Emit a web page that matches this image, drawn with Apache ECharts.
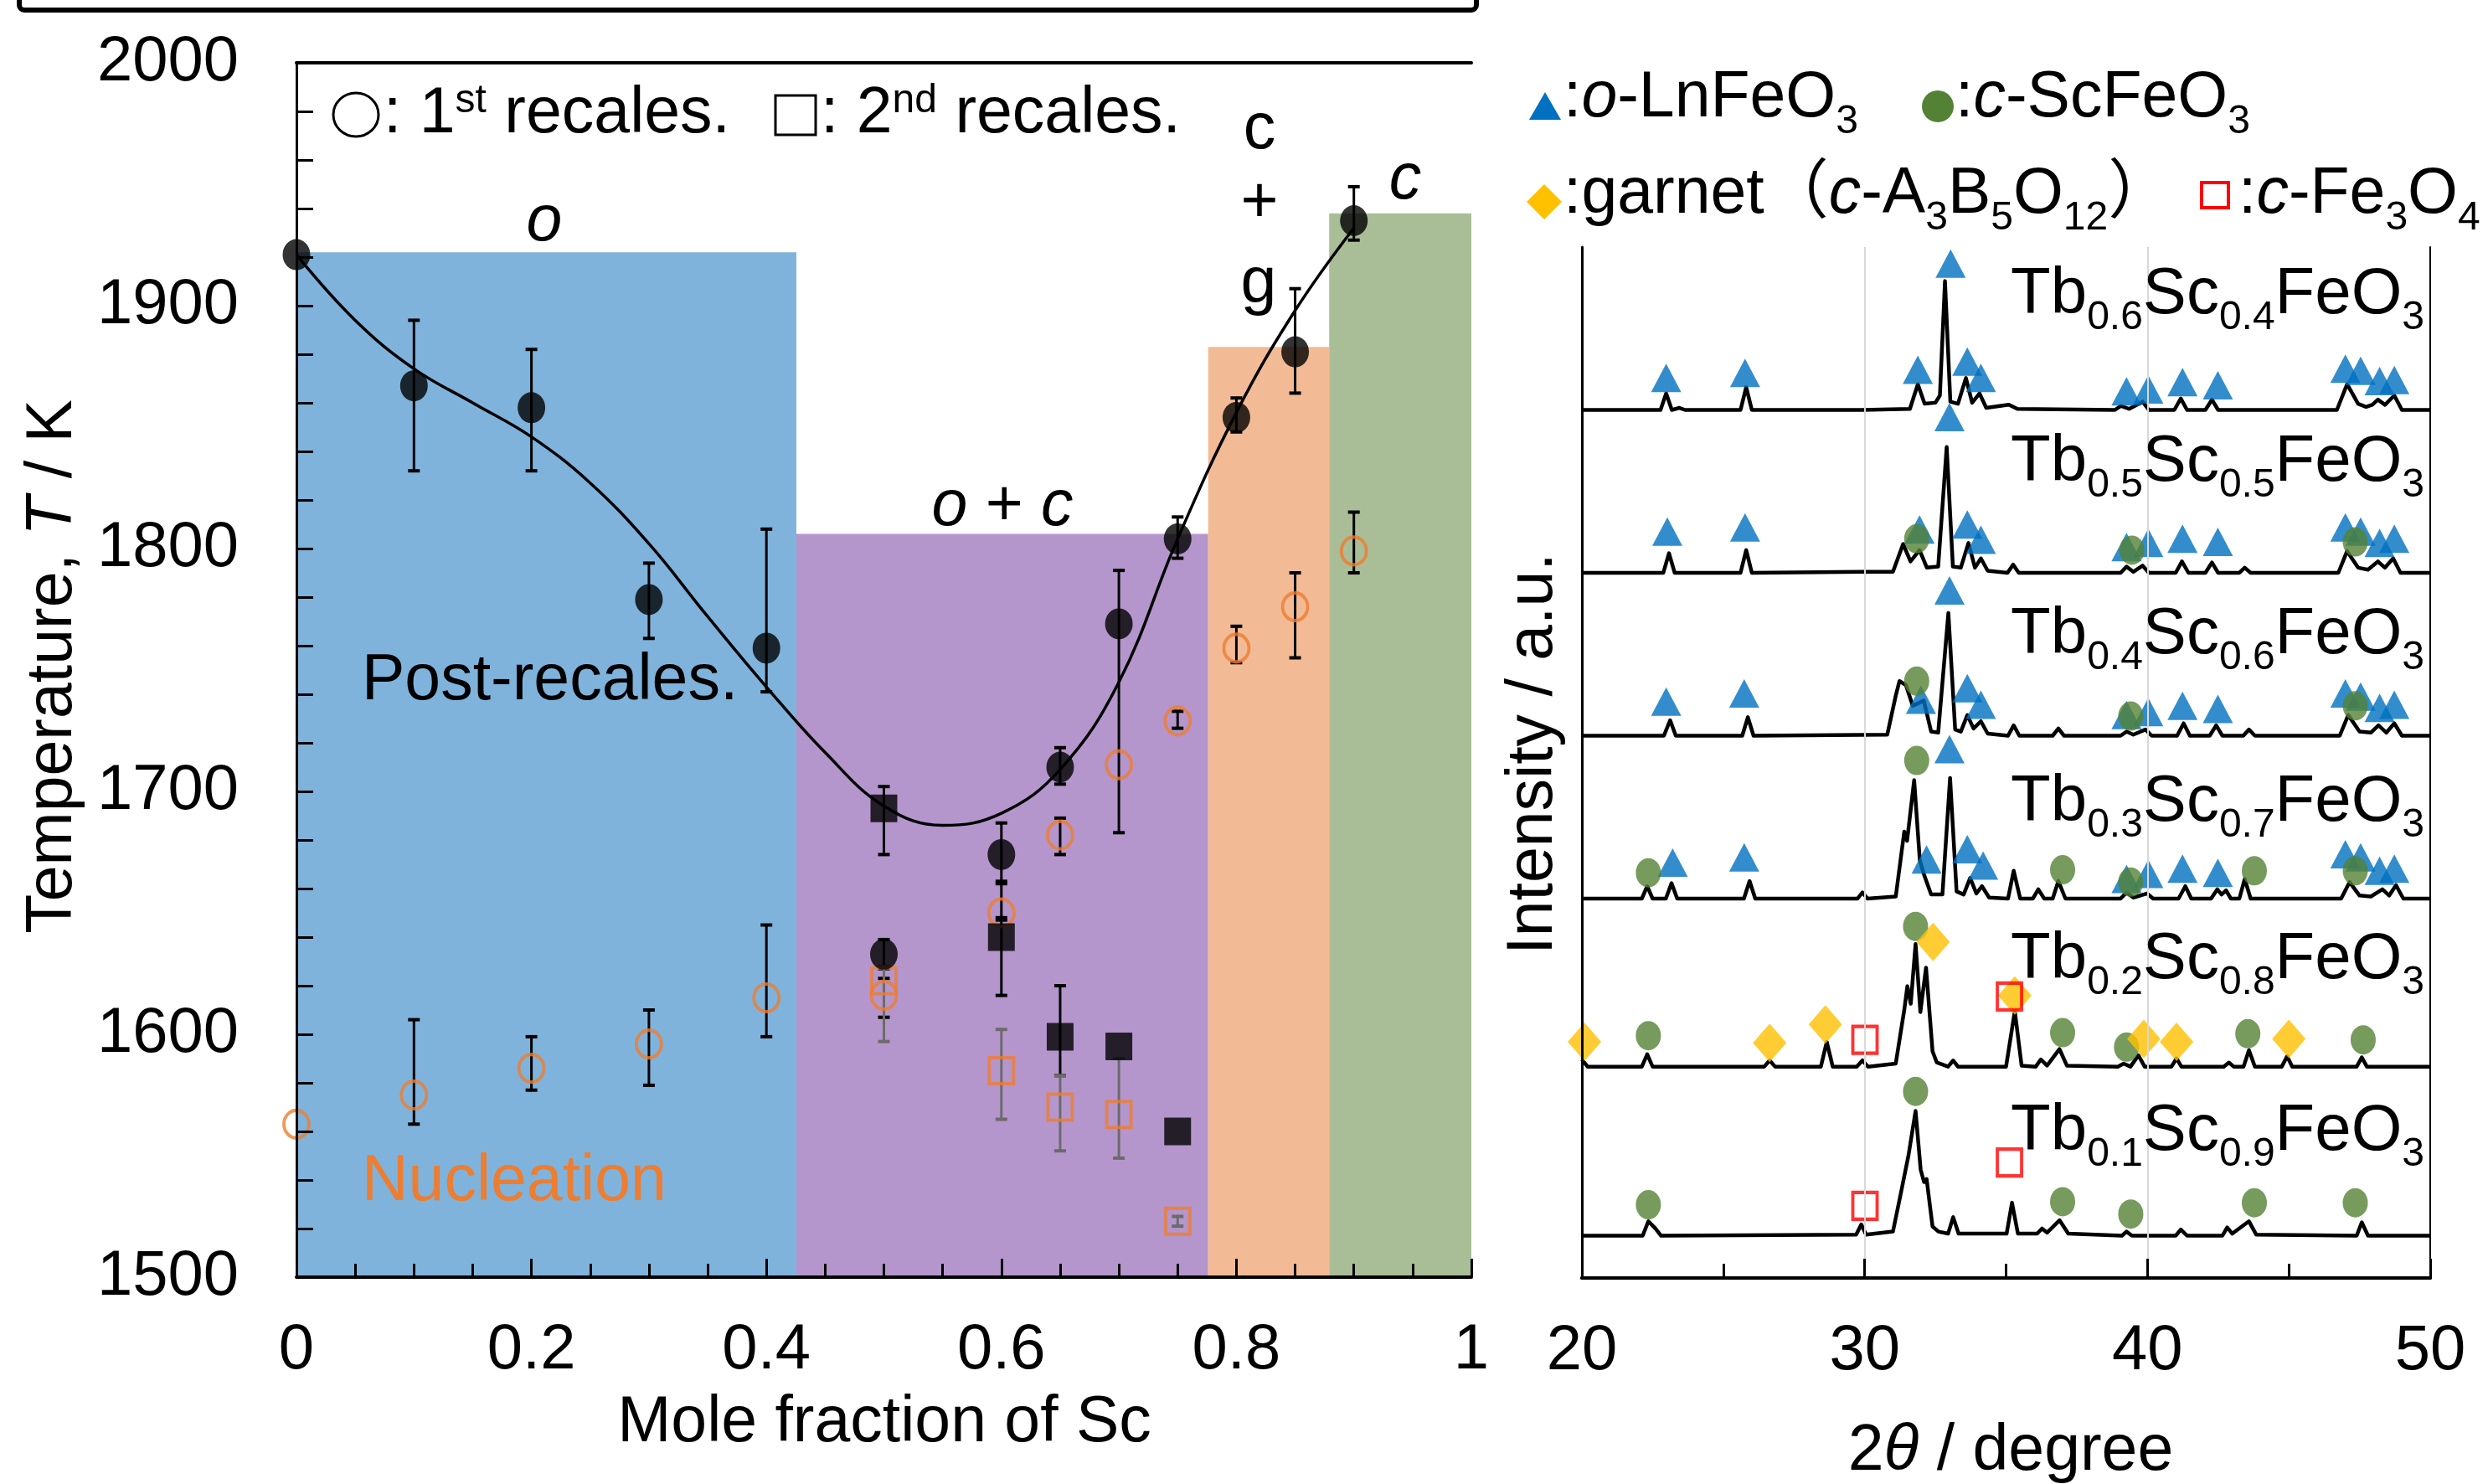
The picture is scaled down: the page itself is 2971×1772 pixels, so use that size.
<!DOCTYPE html>
<html><head><meta charset="utf-8">
<script src="https://cdn.jsdelivr.net/npm/echarts@6/dist/echarts.min.js"></script>
<style>html,body{margin:0;padding:0;background:#fff}#c{width:2971px;height:1772px}</style>
</head><body><div id="c"></div>
<script>
// ---------------- LEFT PANEL DATA ----------------
const xTicksLeft = [0, 0.2, 0.4, 0.6, 0.8, 1];
// post-recalescence, 1st recalescence (filled circles)
const postRecal1X  = [0, 0.1, 0.2, 0.3, 0.4, 0.5, 0.6, 0.65, 0.7, 0.75, 0.8, 0.85, 0.9];
const postRecal1T  = [1921, 1867, 1858, 1779, 1759, 1633, 1674, 1710, 1769, 1804, 1854, 1881, 1935];
const postRecal1Lo = [null, 1832, 1832, 1763, 1741, 1627, 1662, 1703, 1683, 1796, 1848, 1864, 1927];
const postRecal1Hi = [null, 1894, 1882, 1794, 1808, 1639, 1687, 1718, 1791, 1813, 1862, 1907, 1949];
// post-recalescence, 2nd recalescence (filled squares)
const postRecal2X  = [0.5, 0.6, 0.65, 0.7, 0.75];
const postRecal2T  = [1693, 1640, 1599, 1595, 1560];
const postRecal2Lo = [1674, 1616, 1583, null, null];
const postRecal2Hi = [1702, 1648, 1620, null, null];
// nucleation, 1st recalescence (open circles)
const nucl1X  = [0, 0.1, 0.2, 0.3, 0.4, 0.5, 0.6, 0.65, 0.7, 0.75, 0.8, 0.85, 0.9];
const nucl1T  = [1563, 1575, 1586, 1596, 1615, 1616, 1650, 1682, 1711, 1729, 1759, 1776, 1799];
const nucl1Lo = [null, 1563, 1577, 1579, 1599, 1607, 1647, 1674, null, 1726, 1753, 1755, 1790];
const nucl1Hi = [null, 1606, 1599, 1610, 1645, 1623, 1663, 1689, null, 1733, 1768, 1790, 1815];
// nucleation, 2nd recalescence (open squares)
const nucl2X  = [0.5, 0.6, 0.65, 0.7, 0.75];
const nucl2T  = [1622, 1585, 1570, 1567, 1523];
const nucl2Lo = [1597, 1565, 1552, 1549, 1521];
const nucl2Hi = [1628, 1602, 1583, 1590, 1525];
// guide curve
const curveX = [0, 0.05, 0.1, 0.15, 0.2, 0.25, 0.3, 0.35, 0.4, 0.45, 0.5, 0.55, 0.6, 0.65, 0.7, 0.75, 0.8, 0.85, 0.9];
const curveT = [1921, 1894, 1874, 1860, 1846, 1827, 1802, 1772, 1743, 1716, 1694, 1686, 1691, 1709, 1745, 1804, 1856, 1898, 1932];
// phase regions
const phaseNames = ['o', 'o + c', 'c + g', 'c'];
const phaseStart = [0, 0.4255, 0.776, 0.879];
const phaseEnd   = [0.4255, 0.776, 0.879, 1];
const phaseTop   = [1922, 1806, 1883, 1938];

// ---------------- RIGHT PANEL DATA (XRD, a.u.) ----------------
const tbFrac = ['0.6', '0.5', '0.4', '0.3', '0.2', '0.1'];
const scFrac = ['0.4', '0.5', '0.6', '0.7', '0.8', '0.9'];
const xrdTb06 = [[20,84.2],[22.78,84.2],[22.98,85.8],[23.18,84.2],[23.45,84.4],[23.65,84.2],[25.61,84.2],[25.81,86.4],[26.01,84.2],[29.9,84.2],[31.6,84.3],[31.88,86.7],[32.12,84.8],[32.5,84.9],[32.66,85.6],[32.84,96.7],[33.03,85.0],[33.3,84.8],[33.58,87.3],[33.8,84.9],[34.06,85.8],[34.3,84.4],[35.1,84.7],[35.4,84.3],[38.85,84.2],[39.06,84.6],[39.35,84.3],[39.83,85.0],[40.05,84.2],[40.95,84.2],[41.18,85.3],[41.4,84.2],[42.05,84.2],[42.28,85.2],[42.5,84.2],[46.7,84.2],[47.06,86.7],[47.45,84.8],[47.73,84.5],[47.95,84.7],[48.15,85.2],[48.4,84.7],[48.73,85.6],[49.0,84.2],[50,84.2]];
const xrdTb05 = [[20,68.4],[22.88,68.4],[23.08,70.3],[23.28,68.4],[25.61,68.4],[25.81,70.6],[26.01,68.4],[29.9,68.5],[31.0,68.5],[31.36,71.2],[31.62,69.5],[31.94,70.6],[32.2,68.9],[32.6,69.0],[32.9,80.6],[33.12,69.0],[33.4,68.9],[33.67,71.3],[33.9,68.9],[34.11,69.8],[34.35,68.6],[35.05,68.4],[35.25,69.2],[35.45,68.4],[39.05,68.4],[39.26,69.0],[39.5,68.5],[39.83,69.1],[40.05,68.4],[41.0,68.4],[41.22,69.5],[41.45,68.4],[42.05,68.4],[42.28,69.4],[42.5,68.4],[43.25,68.4],[43.44,68.9],[43.65,68.4],[46.75,68.4],[47.06,70.5],[47.45,68.9],[47.8,68.7],[48.15,69.5],[48.4,68.9],[48.69,69.8],[48.95,68.4],[50,68.4]];
const xrdTb04 = [[20,52.6],[22.9,52.6],[23.12,54.1],[23.32,52.6],[25.67,52.6],[25.87,54.4],[26.07,52.6],[30.8,52.7],[31.1,56.5],[31.23,57.9],[31.46,57.5],[31.7,55.5],[32.09,56.0],[32.35,53.0],[32.6,52.9],[32.96,64.5],[33.2,53.2],[33.4,53.0],[33.63,54.6],[33.85,53.3],[34.11,54.0],[34.35,52.8],[35.07,52.6],[35.27,53.6],[35.47,52.6],[36.65,52.6],[36.85,53.3],[37.05,52.6],[39.05,52.6],[39.26,53.0],[39.5,52.7],[39.93,53.2],[40.15,52.6],[41.05,52.6],[41.28,53.8],[41.5,52.6],[42.2,52.6],[42.43,53.6],[42.65,52.6],[43.39,52.6],[43.59,53.2],[43.8,52.6],[46.8,52.6],[47.1,54.6],[47.5,53.0],[47.9,52.9],[48.17,53.6],[48.45,52.9],[48.73,53.8],[49.0,52.6],[50,52.6]];
const xrdTb03 = [[20,36.8],[22.12,36.8],[22.31,38.0],[22.5,36.8],[22.97,36.8],[23.17,38.3],[23.37,36.8],[25.73,36.8],[25.93,38.5],[26.13,36.8],[29.75,36.8],[29.92,37.4],[30.1,36.8],[31.1,37.0],[31.4,43.3],[31.5,42.4],[31.75,48.3],[31.95,40.5],[32.09,39.2],[32.35,37.2],[32.75,37.2],[33.02,48.5],[33.25,37.5],[33.5,37.2],[33.73,38.8],[33.95,37.3],[34.15,38.0],[34.4,36.9],[35.07,36.8],[35.27,39.5],[35.5,36.8],[35.95,36.8],[36.14,37.7],[36.35,36.8],[36.65,36.8],[36.85,38.5],[37.1,36.8],[39.05,36.8],[39.26,37.4],[39.5,36.9],[39.99,37.3],[40.2,36.8],[41.1,36.8],[41.34,38.0],[41.55,36.8],[42.25,36.8],[42.47,37.7],[42.62,37.2],[42.78,37.6],[42.95,36.8],[43.25,36.8],[43.44,38.7],[43.65,36.8],[46.85,36.8],[47.15,38.4],[47.5,37.1],[47.9,37.0],[48.31,37.7],[48.55,37.1],[48.79,38.1],[49.05,36.8],[50,36.8]];
const xrdTb02 = [[20,21.2],[20.05,21.2],[20.2,20.5],[22.12,20.5],[22.31,21.7],[22.5,20.5],[26.45,20.5],[26.64,21.1],[26.83,20.5],[28.45,20.5],[28.66,22.9],[28.87,20.5],[29.72,20.5],[29.92,21.1],[30.12,20.5],[31.1,20.8],[31.4,26.0],[31.51,28.3],[31.63,26.6],[31.8,32.4],[31.97,25.8],[32.17,30.1],[32.4,22.0],[32.55,20.9],[32.95,20.5],[33.13,21.1],[33.3,20.5],[35.0,20.5],[35.31,25.9],[35.55,20.6],[36.05,20.5],[36.23,21.2],[36.45,20.6],[36.89,22.2],[37.15,20.6],[38.95,20.5],[39.16,20.8],[39.4,20.5],[39.68,21.6],[39.9,20.5],[40.85,20.5],[41.03,21.3],[41.2,20.5],[42.7,20.5],[42.88,20.9],[43.05,20.5],[43.4,20.5],[43.59,22.1],[43.8,20.5],[44.75,20.5],[44.94,21.5],[45.12,20.5],[47.4,20.5],[47.58,21.4],[47.76,20.5],[50,20.5]];
const xrdTb01 = [[20,4.1],[22.15,4.1],[22.35,5.5],[22.6,4.8],[22.8,4.1],[29.7,4.2],[29.88,5.2],[30.05,4.2],[31.0,4.5],[31.3,8.5],[31.55,11.9],[31.8,16.2],[31.98,10.5],[32.1,9.3],[32.19,9.6],[32.4,5.0],[32.61,4.5],[32.95,4.3],[33.13,5.9],[33.32,4.3],[35.02,4.3],[35.21,7.3],[35.42,4.3],[36.1,4.3],[36.27,4.8],[36.45,4.4],[36.89,5.6],[37.2,4.3],[39.1,4.1],[39.26,4.5],[39.45,4.1],[41.0,4.1],[41.18,4.7],[41.4,4.1],[42.65,4.1],[42.82,4.9],[43.0,4.3],[43.59,5.5],[43.85,4.2],[47.4,4.1],[47.58,5.4],[47.8,4.1],[50,4.1]];
// phase marks [2theta, level in a.u.]
const oLnFeO3Marks = [[22.98,87.3],[25.77,87.8],[31.88,88.1],[33.04,98.4],[33.63,88.9],[34.11,87.3],[39.26,86.0],[40.03,86.2],[41.24,86.9],[42.49,86.6],[47.0,88.2],[47.54,88.0],[48.21,87.0],[48.73,87.1],
  [23.02,72.4],[25.77,72.8],[31.94,72.6],[33.0,83.5],[33.63,73.1],[34.11,71.6],[39.26,70.9],[40.03,71.3],[41.24,71.7],[42.49,71.4],[47.0,72.8],[47.54,72.4],[48.21,71.3],[48.73,71.7],
  [22.98,55.9],[25.74,56.7],[31.99,56.1],[33.0,66.7],[33.63,57.2],[34.11,55.6],[39.26,54.6],[40.03,54.9],[41.24,55.5],[42.49,55.2],[47.0,56.7],[47.54,56.4],[48.21,55.3],[48.73,55.6],
  [23.21,40.3],[25.74,40.8],[32.19,40.6],[33.0,51.3],[33.63,41.6],[34.19,40.0],[39.26,38.7],[40.03,39.2],[41.24,39.7],[42.49,39.3],[47.0,41.1],[47.54,40.8],[48.21,39.5],[48.73,39.7]];
const cScFeO3Marks = [[31.84,71.7],[39.45,70.6],[47.35,71.4],
  [31.84,57.9],[39.41,54.5],[47.35,55.5],
  [22.35,39.3],[31.84,50.2],[37.0,39.6],[39.41,38.4],[43.78,39.5],[47.35,39.5],
  [22.35,23.5],[31.8,34.1],[37.0,23.8],[39.26,22.4],[43.55,23.7],[47.63,23.1],
  [22.35,7.1],[31.8,18.1],[37.0,7.4],[39.41,6.2],[43.78,7.3],[47.35,7.3]];
const garnetMarks = [[20.09,22.9],[26.64,22.8],[28.61,24.6],[32.42,32.6],[35.31,27.4],[39.87,23.2],[41.03,22.9],[45.0,23.2]];
const fe3o4Marks = [[30.01,23.1],[35.12,27.3],[30.01,7.0],[35.12,11.2]];

// ---------------- STYLE ----------------
const F = "'Liberation Sans', Arial, 'Noto Sans CJK JP', sans-serif";
const FS = 77;
const phaseColors = ['#7fb3dc', '#b496cc', '#f2bb96', '#a9be97'];
const orange = '#ed7d31';
const rich = {
  s:   {fontSize: 48, fontFamily: F, height: 24, lineHeight: 24, verticalAlign: 'bottom', fill: '#000'},
  i:   {fontSize: FS, fontFamily: F, fontStyle: 'italic', lineHeight: 80, fill: '#000'},
  sup: {fontSize: 48, fontFamily: F, lineHeight: 54, verticalAlign: 'top', fill: '#000'}
};
function txt(text, x, y, opt) {
  opt = opt || {};
  return {type: 'text', x: x, y: y, rotation: opt.rot || 0, z: 100,
    style: {text: text, fontSize: opt.size || FS, fontFamily: F, fontStyle: opt.italic ? 'italic' : 'normal',
      fill: opt.color || '#000', align: opt.align || 'center', verticalAlign: 'middle', lineHeight: 80, rich: rich}};
}
function zipErr(xs, lo, hi) {
  const out = [];
  xs.forEach((x, i) => { if (lo[i] != null) out.push([x, lo[i], hi[i]]); });
  return out;
}
function zipXY(xs, ys) { return xs.map((x, i) => [x, ys[i]]); }
function errRender(color) {
  return function (params, api) {
    const x = api.value(0), lo = api.value(1), hi = api.value(2);
    const p1 = api.coord([x, hi]), p2 = api.coord([x, lo]);
    const w = 7;
    return {type: 'group', children: [
      {type: 'line', shape: {x1: p1[0], y1: p1[1], x2: p2[0], y2: p2[1]}, style: {stroke: color, lineWidth: 3}},
      {type: 'line', shape: {x1: p1[0] - w, y1: p1[1], x2: p1[0] + w, y2: p1[1]}, style: {stroke: color, lineWidth: 4}},
      {type: 'line', shape: {x1: p2[0] - w, y1: p2[1], x2: p2[0] + w, y2: p2[1]}, style: {stroke: color, lineWidth: 4}}
    ]};
  };
}
const blackLine = {color: '#000', width: 3};
const noAxisDeco = {axisTick: {show: false}, axisLabel: {show: false}, splitLine: {show: false}};

const xrdSeries = [xrdTb06, xrdTb05, xrdTb04, xrdTb03, xrdTb02, xrdTb01].map((d, k) => ({
  type: 'line', name: 'Tb' + tbFrac[k], xAxisIndex: 2, yAxisIndex: 2, data: d, symbol: 'none',
  lineStyle: {color: '#000', width: 4.5, join: 'round'}, z: 3, silent: true
}));

const labelY = [352, 552, 758, 958, 1146, 1351];
const traceLabels = tbFrac.map((t, k) => txt('Tb{s|' + t + '}Sc{s|' + scFrac[k] + '}FeO{s|3}', 2895, labelY[k], {align: 'right', size: 78}));

const option = {
  animation: false,
  backgroundColor: '#fff',
  grid: [
    {left: 354, top: 75, width: 1403, height: 1450},
    {left: 1889, top: 295, width: 1013, height: 1231}
  ],
  xAxis: [
    {gridIndex: 0, type: 'value', min: 0, max: 1, interval: 0.2, position: 'bottom', z: 10,
      axisLine: {lineStyle: {color: '#000', width: 4}},
      axisTick: {inside: true, length: 22, lineStyle: blackLine},
      minorTick: {show: true, splitNumber: 4, length: 16, lineStyle: blackLine},
      axisLabel: {fontSize: 76, fontFamily: F, color: '#000', margin: 50, formatter: v => String(v)},
      splitLine: {show: false}},
    Object.assign({gridIndex: 0, type: 'value', min: 0, max: 1, position: 'top', z: 10,
      axisLine: {lineStyle: {color: '#000', width: 4}}}, noAxisDeco),
    {gridIndex: 1, type: 'value', min: 20, max: 50, interval: 10, position: 'bottom', z: 10,
      axisLine: {lineStyle: {color: '#000', width: 4}},
      axisTick: {inside: true, length: 23, lineStyle: blackLine},
      minorTick: {show: true, splitNumber: 2, length: 17, lineStyle: blackLine},
      axisLabel: {fontSize: 76, fontFamily: F, color: '#000', margin: 50, formatter: v => String(v)},
      splitLine: {show: true, lineStyle: {color: '#d9d9d9', width: 2}}},
    Object.assign({gridIndex: 1, type: 'value', min: 20, max: 50, position: 'top', z: 10,
      axisLine: {lineStyle: {color: '#000', width: 4}}}, noAxisDeco)
  ],
  yAxis: [
    {gridIndex: 0, type: 'value', min: 1500, max: 2000, interval: 100, position: 'left', z: 10,
      axisLine: {show: true, lineStyle: blackLine},
      axisTick: {show: true, inside: true, length: 20, lineStyle: blackLine},
      minorTick: {show: true, splitNumber: 5, length: 20, lineStyle: blackLine},
      axisLabel: {fontSize: 76, fontFamily: F, color: '#000', margin: 69, formatter: v => String(v)},
      splitLine: {show: false}},
    Object.assign({gridIndex: 0, type: 'value', min: 1500, max: 2000, position: 'right', z: 10,
      axisLine: {show: true, lineStyle: {color: '#000', width: 2}}}, noAxisDeco),
    Object.assign({gridIndex: 1, type: 'value', min: 0, max: 100, position: 'left', z: 10,
      axisLine: {show: true, lineStyle: blackLine}}, noAxisDeco),
    Object.assign({gridIndex: 1, type: 'value', min: 0, max: 100, position: 'right', z: 10,
      axisLine: {show: true, lineStyle: {color: '#000', width: 2}}}, noAxisDeco)
  ],
  series: [
    {type: 'custom', name: 'phases', xAxisIndex: 0, yAxisIndex: 0, z: 1, silent: true,
      data: phaseNames.map((n, i) => [phaseStart[i], phaseEnd[i], phaseTop[i]]),
      encode: {x: [0, 1], y: 2},
      renderItem: function (params, api) {
        const a = api.coord([api.value(0), api.value(2)]);
        const b = api.coord([api.value(1), 1500]);
        return {type: 'rect', shape: {x: a[0], y: a[1], width: b[0] - a[0], height: b[1] - a[1]},
          style: {fill: phaseColors[params.dataIndex]}};
      }},
    {type: 'line', name: 'curve', xAxisIndex: 0, yAxisIndex: 0, data: zipXY(curveX, curveT),
      smooth: 0.4, symbol: 'none', lineStyle: {color: '#000', width: 3.5}, z: 3},
    {type: 'custom', name: 'errP1', xAxisIndex: 0, yAxisIndex: 0, z: 4, data: zipErr(postRecal1X, postRecal1Lo, postRecal1Hi), encode: {x: 0, y: [1, 2]}, renderItem: errRender('#000')},
    {type: 'custom', name: 'errP2', xAxisIndex: 0, yAxisIndex: 0, z: 4, data: zipErr(postRecal2X, postRecal2Lo, postRecal2Hi), encode: {x: 0, y: [1, 2]}, renderItem: errRender('#000')},
    {type: 'custom', name: 'errN1', xAxisIndex: 0, yAxisIndex: 0, z: 4, data: zipErr(nucl1X, nucl1Lo, nucl1Hi), encode: {x: 0, y: [1, 2]}, renderItem: errRender('#000')},
    {type: 'custom', name: 'errN2', xAxisIndex: 0, yAxisIndex: 0, z: 4, data: zipErr(nucl2X, nucl2Lo, nucl2Hi), encode: {x: 0, y: [1, 2]}, renderItem: errRender('#6b6b6b')},
    {type: 'scatter', name: 'nucl1', xAxisIndex: 0, yAxisIndex: 0, z: 5, data: zipXY(nucl1X, nucl1T),
      symbol: 'circle', symbolSize: [30, 33], itemStyle: {color: 'rgba(0,0,0,0)', borderColor: orange, borderWidth: 4}},
    {type: 'scatter', name: 'nucl2', xAxisIndex: 0, yAxisIndex: 0, z: 5, data: zipXY(nucl2X, nucl2T),
      symbol: 'rect', symbolSize: [29, 31], itemStyle: {color: 'rgba(0,0,0,0)', borderColor: orange, borderWidth: 4}},
    {type: 'scatter', name: 'post1', xAxisIndex: 0, yAxisIndex: 0, z: 6, data: zipXY(postRecal1X, postRecal1T),
      symbol: 'circle', symbolSize: [33, 37], itemStyle: {color: '#000'}},
    {type: 'scatter', name: 'post2', xAxisIndex: 0, yAxisIndex: 0, z: 6, data: zipXY(postRecal2X, postRecal2T),
      symbol: 'rect', symbolSize: [32, 33], itemStyle: {color: '#000'}},
    ...xrdSeries,
    {type: 'scatter', name: 'o-LnFeO3', xAxisIndex: 2, yAxisIndex: 2, z: 6, clip: false, data: oLnFeO3Marks,
      symbol: 'triangle', symbolSize: [36, 34], itemStyle: {color: '#0070c0'}},
    {type: 'scatter', name: 'c-ScFeO3', xAxisIndex: 2, yAxisIndex: 2, z: 7, clip: false, data: cScFeO3Marks,
      symbol: 'circle', symbolSize: [30, 35], itemStyle: {color: '#548235'}},
    {type: 'scatter', name: 'garnet', xAxisIndex: 2, yAxisIndex: 2, z: 8, clip: false, data: garnetMarks,
      symbol: 'diamond', symbolSize: [40, 46], itemStyle: {color: '#ffc000'}},
    {type: 'scatter', name: 'c-Fe3O4', xAxisIndex: 2, yAxisIndex: 2, z: 9, clip: false, data: fe3o4Marks,
      symbol: 'rect', symbolSize: [29, 32], itemStyle: {color: 'rgba(0,0,0,0)', borderColor: '#ff0000', borderWidth: 4}}
  ],
  graphic: [
    // cropped title frame at top
    {type: 'rect', shape: {x: 23, y: -60, width: 1740, height: 72, r: 6}, style: {fill: 'none', stroke: '#000', lineWidth: 6}},
    // left legend
    {type: 'ellipse', shape: {cx: 425, cy: 137, rx: 27, ry: 26}, style: {fill: 'none', stroke: '#000', lineWidth: 3}, z: 100},
    txt(': 1{sup|st} recales.', 458, 137, {align: 'left'}),
    {type: 'rect', shape: {x: 926, y: 114, width: 48, height: 47}, style: {fill: 'none', stroke: '#000', lineWidth: 3}, z: 100},
    txt(': 2{sup|nd} recales.', 980, 137, {align: 'left'}),
    // phase labels
    txt('o', 650, 266, {italic: true}),
    txt('{i|o} + {i|c}', 1197, 606),
    txt('c', 1504, 156),
    txt('+', 1504, 244),
    txt('g', 1503, 340),
    txt('c', 1678, 216, {italic: true}),
    txt('Post-recales.', 432, 814, {align: 'left'}),
    txt('Nucleation', 432, 1412, {align: 'left', color: orange}),
    // axis titles
    txt('Temperature, {i|T} / K', 64, 796, {rot: Math.PI / 2}),
    txt('Mole fraction of Sc', 1056, 1700),
    txt('Intensity / a.u.', 1832, 900, {rot: Math.PI / 2}),
    txt('2{i|θ} / degree', 2401, 1734),
    // right legend
    {type: 'polygon', shape: {points: [[1826, 143], [1845, 110], [1864, 143]]}, style: {fill: '#0070c0'}, z: 100},
    txt(':{i|o}-LnFeO{s|3}', 1867, 118, {align: 'left'}),
    {type: 'ellipse', shape: {cx: 2314, cy: 127, rx: 19, ry: 19}, style: {fill: '#548235'}, z: 100},
    txt(':{i|c}-ScFeO{s|3}', 2335, 118, {align: 'left'}),
    {type: 'polygon', shape: {points: [[1844, 220], [1865, 241], [1844, 262], [1823, 241]]}, style: {fill: '#ffc000'}, z: 100},
    txt(':garnet（{i|c}-A{s|3}B{s|5}O{s|12}）', 1867, 233, {align: 'left'}),
    {type: 'rect', shape: {x: 2629, y: 218, width: 32, height: 30}, style: {fill: 'none', stroke: '#ff0000', lineWidth: 4}, z: 100},
    txt(':{i|c}-Fe{s|3}O{s|4}', 2673, 233, {align: 'left'}),
    ...traceLabels
  ]
};
const chart = echarts.init(document.getElementById('c'), null, {renderer: 'canvas'});
chart.setOption(option);
</script>
</body></html>
